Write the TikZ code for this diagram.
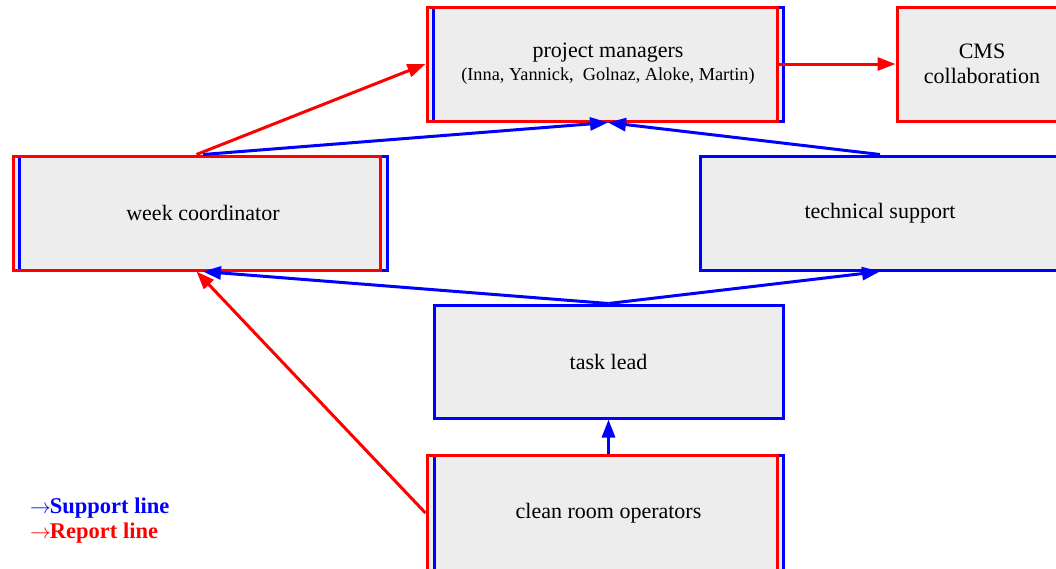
\documentclass[tikz,border=0pt]{standalone}
\usepackage{fontspec}
\setmainfont{Liberation Serif}
\usetikzlibrary{arrows.meta,backgrounds}
\definecolor{boxfill}{HTML}{EDEDED}
\definecolor{supportc}{RGB}{0,0,255}
\definecolor{reportc}{RGB}{255,0,0}
\begin{document}
\begin{tikzpicture}[x=1pt,y=-1pt,
  labeltext/.style={font=\fontsize{22}{25}\selectfont, align=center, text=black},
  frame/.style={draw=#1, line width=3pt, inner sep=0pt, rectangle},
  panel/.style={frame=#1, fill=boxfill},
  conn/.style={draw=#1, line width=3pt, -{Triangle[length=18pt,width=13pt]}},
  legendtext/.style={font=\bfseries\fontsize{22.5}{24}\selectfont, anchor=west, inner sep=0pt}
]
\useasboundingbox (0,0) rectangle (1056,568);

% project managers (blue frame behind the red one)
\node[frame=supportc, minimum width=350pt, minimum height=114pt, labeltext] (pmB) at (608,64)
  {project managers\\[-2pt]{\fontsize{18.3}{21}\selectfont (Inna, Yannick,\ \ Golnaz, Aloke, Martin)}};
\node[frame=reportc, minimum width=350pt, minimum height=114pt] (pm) at (602,64) {};

% CMS collaboration
\node[panel=reportc, minimum width=170pt, minimum height=114pt, labeltext] (cms) at (982,64)
  {CMS\\collaboration};

% week coordinator
\node[frame=supportc, minimum width=368pt, minimum height=114pt, labeltext] (wcB) at (203,213)
  {\raisebox{-2pt}{week coordinator}};
\node[frame=reportc, minimum width=367pt, minimum height=114pt] (wc) at (196.5,213) {};

% technical support
\node[panel=supportc, minimum width=360pt, minimum height=114pt, labeltext] (ts) at (880,213)
  {\raisebox{-2pt}{technical support}};

% task lead
\node[panel=supportc, minimum width=349pt, minimum height=113pt, labeltext] (tl) at (608.5,361.5)
  {task lead};

% clean room operators
\node[frame=supportc, minimum width=349pt, minimum height=116pt, labeltext] (crB) at (608.5,513)
  {\raisebox{-1pt}{clean room operators}};
\node[frame=reportc, minimum width=350pt, minimum height=116pt] (cr) at (602,513) {};

% grey fill behind the double frames
\begin{scope}[on background layer]
  \fill[boxfill] (pm.north west) rectangle (pmB.south east);
  \fill[boxfill] (wc.north west) rectangle (wcB.south east);
  \fill[boxfill] (cr.north west) rectangle (crB.south east);
\end{scope}

% report lines
\draw[conn=reportc] (wc.north) -- (pm.west);
\draw[conn=reportc] (pm.east) -- (cms.west);
\draw[conn=reportc] (cr.west) -- (wc.south);

% support lines
\draw[conn=supportc] (wcB.north) -- (pmB.south);
\draw[conn=supportc] (ts.north) -- (pmB.south);
\draw[conn=supportc] (tl.north) -- (wcB.south);
\draw[conn=supportc] (tl.north) -- (ts.south);
\draw[conn=supportc] (crB.north) -- (tl.south);

% legend
\node[legendtext, text=supportc] (legS) at (30,508) {$\rightarrow$\kern-1ptSupport line};
\node[legendtext, text=reportc] (legR) at (30,533) {$\rightarrow$\kern-1ptReport line};
\end{tikzpicture}
\end{document}
